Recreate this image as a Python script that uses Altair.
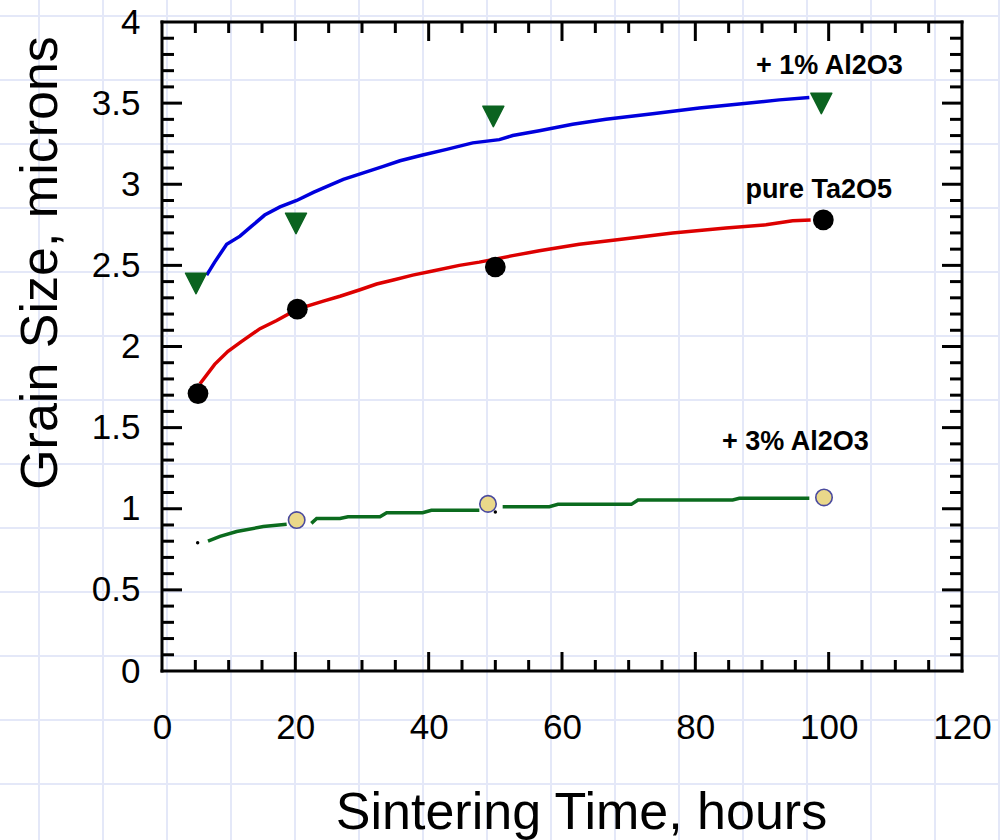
import altair as alt
import pandas as pd

# ---------------- data ----------------
# measured points
pure_x = [5.4, 20.3, 50.0, 99.2]
pure_y = [1.71, 2.23, 2.49, 2.78]

al1_x = [5.1, 20.1, 49.7, 98.9]
al1_y = [2.39, 2.76, 3.42, 3.50]

al3_x = [20.2, 48.9, 99.3]
al3_y = [0.93, 1.03, 1.07]

dots_x = [5.35, 50.0]
dots_y = [0.79, 0.98]

red_x = [5.7, 7.9, 9.9, 11.9, 14.7, 17.2, 20.3, 24.2, 26.7, 29.7, 32.2, 34.7, 37.6,
         40.6, 44.6, 47.6, 52.6, 56.6, 62.6, 68.6, 76.6, 84.6, 90.6, 94.6, 97.3]
red_y = [1.77, 1.89, 1.97, 2.03, 2.11, 2.16, 2.23, 2.28, 2.31, 2.35, 2.385, 2.41, 2.44,
         2.465, 2.50, 2.52, 2.56, 2.59, 2.63, 2.66, 2.70, 2.73, 2.75, 2.775, 2.78]

blue_x = [6.7, 7.9, 9.7, 11.7, 13.4, 15.4, 17.7, 20.2, 22.7, 25.2, 27.2, 30.2, 33.2,
          35.7, 39.1, 42.7, 46.6, 50.6, 52.6, 56.6, 61.6, 66.6, 73.6, 80.6, 86.6, 92.6, 97.1]
blue_y = [2.44, 2.52, 2.63, 2.68, 2.74, 2.81, 2.86, 2.90, 2.95, 2.995, 3.03, 3.07, 3.11,
          3.145, 3.18, 3.215, 3.255, 3.275, 3.30, 3.33, 3.37, 3.40, 3.435, 3.47, 3.495, 3.52, 3.535]

green_x = [6.9, 8.7, 11.2, 15.2, 18.7,
           22.4, 23.2, 26.7, 27.9, 32.7, 33.7, 39.1, 40.4, 47.6,
           51.1, 58.1, 59.4, 70.4, 71.4, 85.6, 86.6, 97.1]
green_y = [0.80, 0.83, 0.86, 0.89, 0.905,
           0.91, 0.94, 0.94, 0.95, 0.95, 0.975, 0.975, 0.99, 0.99,
           1.013, 1.013, 1.027, 1.027, 1.054, 1.054, 1.064, 1.064]
green_seg = [1] * 5 + [2] * 9 + [3] * 8

labels_text = ["+ 1% Al2O3", "pure Ta2O5", "+ 3% Al2O3"]
labels_x = [100.1, 98.5, 95.0]
labels_y = [3.68, 2.915, 1.362]

x_tick_labels = [0, 20, 40, 60, 80, 100, 120]
y_tick_labels = [0, 0.5, 1, 1.5, 2, 2.5, 3, 3.5, 4]

x_major = [20, 40, 60, 80, 100]
x_minor = [v for v in range(5, 120, 5) if v % 20]
y_major = [0.5, 1.0, 1.5, 2.0, 2.5, 3.0, 3.5]
y_minor = [round(0.1 * i, 1) for i in range(1, 40) if i % 5]

# ---------------- layout ----------------
W, H = 800, 649
PAD = {"left": 162, "top": 22, "right": 38, "bottom": 169}
FONT = "Liberation Sans"
TICK_FS = 35

xs = alt.Scale(domain=[0, 120], nice=False, zero=False)
ys = alt.Scale(domain=[0, 4], nice=False, zero=False)

x_axis = alt.Axis(values=x_tick_labels, title="Sintering Time, hours", grid=False,
                  domain=False, ticks=False, tickSize=0, labelPadding=39,
                  labelFontSize=TICK_FS, labelFont=FONT, labelColor="black",
                  labelFlush=False, labelOverlap=False, zindex=1,
                  titleFont=FONT, titleFontSize=52, titleFontWeight="normal",
                  titleColor="black", titleX=419, titleY=157,
                  titleBaseline="alphabetic", titleAlign="center")
y_axis = alt.Axis(values=y_tick_labels, format="~g", title="Grain Size,  microns",
                  grid=False, domain=False, ticks=False, tickSize=0, labelPadding=22,
                  labelFontSize=TICK_FS, labelFont=FONT, labelColor="black",
                  labelFlush=False, labelOverlap=False, zindex=1,
                  titleFont=FONT, titleFontSize=52, titleFontWeight="normal",
                  titleColor="black", titleX=-106, titleY=240.5, titleAngle=270,
                  titleBaseline="alphabetic", titleAlign="center")

def X(field="x"):
    return alt.X(f"{field}:Q", scale=xs, axis=x_axis, title="Sintering Time, hours")

def Y(field="y"):
    return alt.Y(f"{field}:Q", scale=ys, axis=y_axis, title="Grain Size,  microns")

# page-style background grid (decorative, pixel based)
gv = pd.DataFrame({"gx": [39 + 64 * k - PAD["left"] for k in range(16)]})
gh = pd.DataFrame({"gy": [16 + 64 * k - PAD["top"] for k in range(13)]})
grid_color = "#E4E8F8"
grid_v = alt.Chart(gv).mark_rule(color=grid_color, strokeWidth=2).encode(
    x=alt.X("gx:Q", scale=None, axis=None),
    y=alt.value(-PAD["top"]), y2=alt.value(H + PAD["bottom"]))
grid_h = alt.Chart(gh).mark_rule(color=grid_color, strokeWidth=2).encode(
    y=alt.Y("gy:Q", scale=None, axis=None),
    x=alt.value(-PAD["left"]), x2=alt.value(W + PAD["right"]))

red_df = pd.DataFrame({"x": red_x, "y": red_y})
blue_df = pd.DataFrame({"x": blue_x, "y": blue_y})
green_df = pd.DataFrame({"x": green_x, "y": green_y, "seg": green_seg})

LW = 3.5
red_line = alt.Chart(red_df).mark_line(color="#DD0000", strokeWidth=LW).encode(
    x=X(), y=Y(), order="x:Q")
blue_line = alt.Chart(blue_df).mark_line(color="#0000DD", strokeWidth=LW).encode(
    x=X(), y=Y(), order="x:Q")
green_line = alt.Chart(green_df).mark_line(color="#0B6B1E", strokeWidth=LW).encode(
    x=X(), y=Y(), detail="seg:N", order="x:Q")

pure_pts = alt.Chart(pd.DataFrame({"x": pure_x, "y": pure_y})).mark_point(
    shape="circle", filled=True, color="black", size=430, opacity=1).encode(x=X(), y=Y())
al1_pts = alt.Chart(pd.DataFrame({"x": al1_x, "y": al1_y})).mark_point(
    shape="M-1,-0.95L1,-0.95L0,1Z", filled=True, fill="#0B6320", stroke="#0B6320",
    strokeWidth=1.5, strokeJoin="round", size=440, opacity=1).encode(x=X(), y=Y())
al3_pts = alt.Chart(pd.DataFrame({"x": al3_x, "y": al3_y})).mark_point(
    shape="circle", filled=True, fill="#EAD88A", stroke="#4A4A9E", strokeWidth=1.6,
    size=270, opacity=1).encode(x=X(), y=Y())
dots = alt.Chart(pd.DataFrame({"x": dots_x, "y": dots_y})).mark_point(
    shape="circle", filled=True, color="black", size=12, opacity=1).encode(x=X(), y=Y())

# inward ticks on all four sides
TK = dict(color="black", strokeWidth=3)
def xticks(vals, length):
    d = pd.DataFrame({"x": vals})
    bottom = alt.Chart(d).mark_rule(**TK).encode(x=X(), y=alt.value(H), y2=alt.value(H - length))
    top = alt.Chart(d).mark_rule(**TK).encode(x=X(), y=alt.value(0), y2=alt.value(length))
    return [bottom, top]

def yticks(vals, length):
    d = pd.DataFrame({"y": vals})
    left = alt.Chart(d).mark_rule(**TK).encode(y=Y(), x=alt.value(0), x2=alt.value(length))
    right = alt.Chart(d).mark_rule(**TK).encode(y=Y(), x=alt.value(W), x2=alt.value(W - length))
    return [left, right]

ticks = xticks(x_major, 19) + xticks(x_minor, 11) + yticks(y_major, 20) + yticks(y_minor, 12)

# frame
frame_df = pd.DataFrame({"x": [0, 0, 0, 120], "x2": [120, 120, 0, 120],
                         "y": [0, 4, 0, 0], "y2": [0, 4, 4, 4]})
frame = alt.Chart(frame_df).mark_rule(color="black", strokeWidth=3, strokeCap="square").encode(
    x=X(), x2="x2:Q", y=Y(), y2="y2:Q")

labels = alt.Chart(pd.DataFrame({"x": labels_x, "y": labels_y, "t": labels_text})).mark_text(
    font=FONT, fontWeight="bold", fontSize=27, align="center", baseline="alphabetic",
    color="black").encode(x=X(), y=Y(), text="t:N")

chart = alt.layer(
    grid_v, grid_h, red_line, blue_line, green_line, *ticks, frame,
    dots, al3_pts, pure_pts, al1_pts, labels
).properties(
    width=W, height=H,
    autosize=alt.AutoSizeParams(type="none"),
    padding=PAD,
    background="white",
).configure_view(strokeWidth=0)

chart.save("out.html", embed_options={"renderer": "svg", "actions": False})
